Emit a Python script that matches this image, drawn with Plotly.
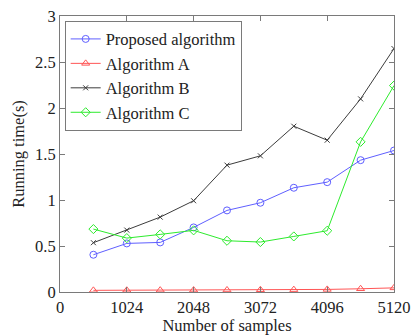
import plotly.graph_objects as go

# Sample counts and measured running times (seconds)
samples = [512, 1024, 1536, 2048, 2560, 3072, 3584, 4096, 4608, 5120]
proposed = [0.405, 0.528, 0.539, 0.702, 0.887, 0.970, 1.133, 1.194, 1.433, 1.538]
algo_a = [0.018, 0.019, 0.020, 0.021, 0.022, 0.024, 0.026, 0.028, 0.035, 0.045]
algo_b = [0.536, 0.673, 0.814, 0.992, 1.379, 1.480, 1.802, 1.650, 2.099, 2.646]
algo_c = [0.684, 0.586, 0.626, 0.670, 0.557, 0.543, 0.604, 0.666, 1.632, 2.244]

x_ticks = [0, 1024, 2048, 3072, 4096, 5120]
y_ticks = [0, 0.5, 1, 1.5, 2, 2.5, 3]
y_tick_text = ["0", "0.5", "1", "1.5", "2", "2.5", "3"]

FONT = "Liberation Serif, Times New Roman, serif"
FS = 16.5

series = [
    ("Proposed algorithm", proposed, "rgb(95,95,255)", "circle-open", 7),
    ("Algorithm A", algo_a, "rgb(255,85,85)", "triangle-up-open", 7),
    ("Algorithm B", algo_b, "rgb(60,60,60)", "x-thin-open", 5),
    ("Algorithm C", algo_c, "rgb(45,235,45)", "diamond-open", 7),
]

fig = go.Figure()
for name, vals, color, symbol, size in series:
    fig.add_trace(go.Scatter(
        x=samples, y=vals, name=name, mode="lines+markers",
        line=dict(color=color, width=1),
        marker=dict(symbol=symbol, size=size, color=color,
                    line=dict(color=color, width=1)),
    ))

axis_common = dict(
    showline=True, linecolor="#7a7a7a", linewidth=1, mirror="allticks",
    ticks="inside", ticklen=5, tickcolor="#7a7a7a",
    showgrid=False, zeroline=False, automargin=False,
    tickfont=dict(family=FONT, size=FS, color="#222"),
)

fig.update_layout(
    width=411, height=335,
    margin=dict(l=60, r=17, t=16, b=43),
    paper_bgcolor="white", plot_bgcolor="white",
    font=dict(family=FONT, size=FS, color="#222"),
    xaxis=dict(range=[0, 5120], tickvals=x_ticks,
               title=dict(text="Number of samples", font=dict(family=FONT, size=FS),
                          standoff=2),
               **axis_common),
    yaxis=dict(range=[0, 3], tickvals=y_ticks, ticktext=y_tick_text,
               title=dict(text="Running time(s)", font=dict(family=FONT, size=FS),
                          standoff=6),
               **axis_common),
    legend=dict(x=0.014, y=0.983, xanchor="left", yanchor="top",
                bgcolor="white", bordercolor="#7a7a7a", borderwidth=1,
                font=dict(family=FONT, size=FS, color="#222"),
                tracegroupgap=0, itemwidth=30),
    showlegend=True,
)

fig.write_html("out.html")
